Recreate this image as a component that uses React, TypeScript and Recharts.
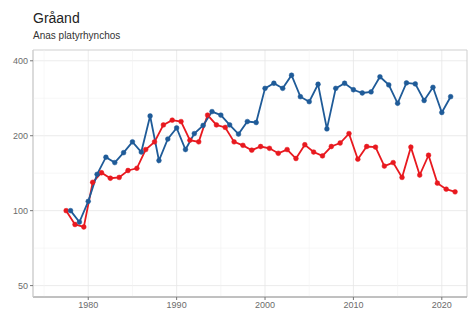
import { LineChart, Line, XAxis, YAxis, CartesianGrid, ReferenceLine, ReferenceArea } from 'recharts';

// Gråand (Anas platyrhynchos), index 100 = start of series, log scale

const blueYears = [
  1978, 1979, 1980, 1981, 1982, 1983, 1984, 1985, 1986, 1987, 1988,
  1989, 1990, 1991, 1992, 1993, 1994, 1995, 1996, 1997, 1998, 1999,
  2000, 2001, 2002, 2003, 2004, 2005, 2006, 2007, 2008, 2009, 2010,
  2011, 2012, 2013, 2014, 2015, 2016, 2017, 2018, 2019, 2020, 2021,
];
const blueValues = [
  100, 90, 109, 140, 164, 156, 171, 189, 172, 240, 159,
  194, 215, 176, 204, 220, 250, 242, 221, 203, 228, 226,
  310, 325, 310, 350, 287, 274, 322, 213, 310, 325, 306,
  297, 300, 345, 320, 270, 326, 323, 277, 313, 248, 287,
];

// winter seasons (1977/78 ...), drawn at the middle of the season
const redSeasons = [
  1977, 1978, 1979, 1980, 1981, 1982, 1983, 1984, 1985, 1986,
  1987, 1988, 1989, 1990, 1991, 1992, 1993, 1994, 1995, 1996,
  1997, 1998, 1999, 2000, 2001, 2002, 2003, 2004, 2005, 2006,
  2007, 2008, 2009, 2010, 2011, 2012, 2013, 2014, 2015, 2016,
  2017, 2018, 2019, 2020, 2021,
];
const redValues = [
  100, 88, 86, 130, 142, 135, 136, 145, 148, 176,
  189, 221, 231, 228, 192, 189, 242, 221, 216, 189,
  183, 175, 181, 178, 170, 176, 162, 184, 172, 166,
  181, 187, 204, 161, 181, 180, 151, 156, 136, 180,
  139, 167, 129, 122, 119,
];

const xTicks = [1980, 1990, 2000, 2010, 2020];
const xMinor = [1975, 1985, 1995, 2005, 2015];
const yTicks = [50, 100, 200, 400];
const yMinor = [70.7, 141.4, 282.8];

const blueData = blueYears.map((y, i) => ({ year: y, value: blueValues[i] }));
const redData = redSeasons.map((y, i) => ({ year: y + 0.5, value: redValues[i] }));

const BLUE = '#1f5b98';
const RED = '#e8191f';
const X_DOMAIN = [1973.75, 2022.85];
const Y_DOMAIN = [45, 442];

export default function App() {
  const tickStyle = { fontSize: 9, fill: '#6b6b6b', fontFamily: 'Liberation Sans, Arial, sans-serif' };
  return (
    <div style={{ position: 'absolute', left: 0, top: 0, width: 468, height: 311, background: '#fff' }}>
      <div
        style={{
          position: 'absolute',
          left: 33,
          top: 11,
          fontFamily: 'Liberation Sans, Arial, sans-serif',
          fontSize: 14,
          lineHeight: '14px',
          color: '#222',
        }}>
        Gråand
      </div>
      <div
        style={{
          position: 'absolute',
          left: 33,
          top: 31,
          fontFamily: 'Liberation Sans, Arial, sans-serif',
          fontSize: 10,
          lineHeight: '10px',
          color: '#333',
        }}>
        Anas platyrhynchos
      </div>
      <LineChart width={468} height={311} margin={{ top: 50, right: 1, bottom: 0, left: 0 }}>
        <CartesianGrid
          stroke="#e6e6e6"
          strokeWidth={0.8}
          verticalValues={xTicks}
          horizontalValues={yTicks}
        />
        {xMinor.map((x) => (
          <ReferenceLine key={'vx' + x} x={x} stroke="#f2f2f2" strokeWidth={0.6} />
        ))}
        {yMinor.map((y) => (
          <ReferenceLine key={'hy' + y} y={y} stroke="#f2f2f2" strokeWidth={0.6} />
        ))}
        <ReferenceArea
          x1={X_DOMAIN[0]}
          x2={X_DOMAIN[1]}
          y1={Y_DOMAIN[0]}
          y2={Y_DOMAIN[1]}
          fill="none"
          stroke="#cfcfcf"
          strokeWidth={1}
        />
        <XAxis
          dataKey="year"
          type="number"
          domain={X_DOMAIN}
          ticks={xTicks}
          allowDataOverflow
          height={14}
          tickSize={3}
          tickMargin={2}
          tick={tickStyle}
          stroke="#999"
          axisLine={{ stroke: '#9a9a9a', strokeWidth: 1 }}
          tickLine={{ stroke: '#777' }}
        />
        <YAxis
          type="number"
          scale="log"
          domain={Y_DOMAIN}
          ticks={yTicks}
          allowDataOverflow
          width={33}
          tickSize={3}
          tickMargin={2}
          tick={tickStyle}
          axisLine={{ stroke: '#cfcfcf' }}
          tickLine={{ stroke: '#777' }}
        />
        <Line
          data={redData}
          dataKey="value"
          type="linear"
          stroke={RED}
          strokeWidth={1.8}
          dot={{ r: 2.4, fill: RED, stroke: RED, strokeWidth: 0.5 }}
          isAnimationActive={false}
        />
        <Line
          data={blueData}
          dataKey="value"
          type="linear"
          stroke={BLUE}
          strokeWidth={1.8}
          dot={{ r: 2.4, fill: BLUE, stroke: BLUE, strokeWidth: 0.5 }}
          isAnimationActive={false}
        />
      </LineChart>
    </div>
  );
}
